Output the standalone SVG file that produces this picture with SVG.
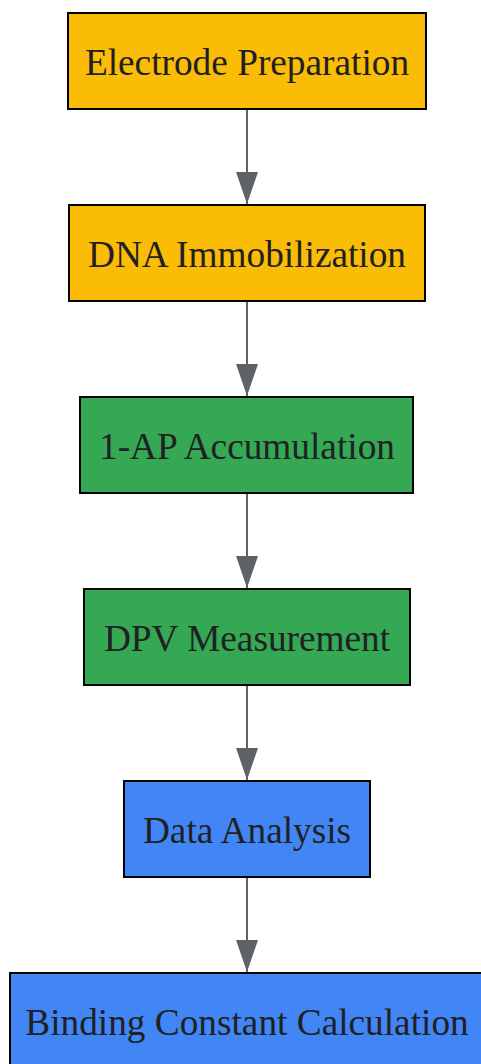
<svg xmlns="http://www.w3.org/2000/svg" width="481" height="1064" viewBox="0 0 481 1064">
<style>
.box{stroke:#000;stroke-width:2}
.y{fill:#FBBC05}.g{fill:#34A853}.b{fill:#4285F4}
.lbl{font-family:"Liberation Serif","Times New Roman",serif;font-size:37.3px;fill:#202124;text-anchor:middle}
.edge{stroke:#5f6368;stroke-width:2;fill:none}
</style>
<defs>
<marker id="ah" markerUnits="userSpaceOnUse" markerWidth="32" markerHeight="22" refX="32" refY="11" orient="auto" overflow="visible">
<path d="M0,0 L32,11 L0,22 Z" fill="#5f6368"/>
</marker>
</defs>
<rect width="481" height="1064" fill="#fff"/>
<g id="connectors">
<line class="edge" x1="247" y1="110" x2="247" y2="204" marker-end="url(#ah)"/>
<line class="edge" x1="247" y1="302" x2="247" y2="396" marker-end="url(#ah)"/>
<line class="edge" x1="247" y1="494" x2="247" y2="588" marker-end="url(#ah)"/>
<line class="edge" x1="247" y1="686" x2="247" y2="780" marker-end="url(#ah)"/>
<line class="edge" x1="247" y1="878" x2="247" y2="972" marker-end="url(#ah)"/>
</g>
<g id="electrode-preparation"><rect class="box y" x="68" y="13" width="358" height="96"/><text class="lbl" x="247" y="75">Electrode Preparation</text></g>
<g id="dna-immobilization"><rect class="box y" x="69" y="205" width="356" height="96"/><text class="lbl" x="247" y="267">DNA Immobilization</text></g>
<g id="ap-accumulation"><rect class="box g" x="80" y="397" width="333" height="96"/><text class="lbl" x="247" y="459">1-AP Accumulation</text></g>
<g id="dpv-measurement"><rect class="box g" x="84" y="589" width="326" height="96"/><text class="lbl" x="247" y="651">DPV Measurement</text></g>
<g id="data-analysis"><rect class="box b" x="124" y="781" width="246" height="96"/><text class="lbl" x="247" y="843">Data Analysis</text></g>
<g id="binding-constant-calculation"><rect class="box b" x="10" y="973" width="474" height="96"/><text class="lbl" x="247" y="1035">Binding Constant Calculation</text></g>
</svg>
